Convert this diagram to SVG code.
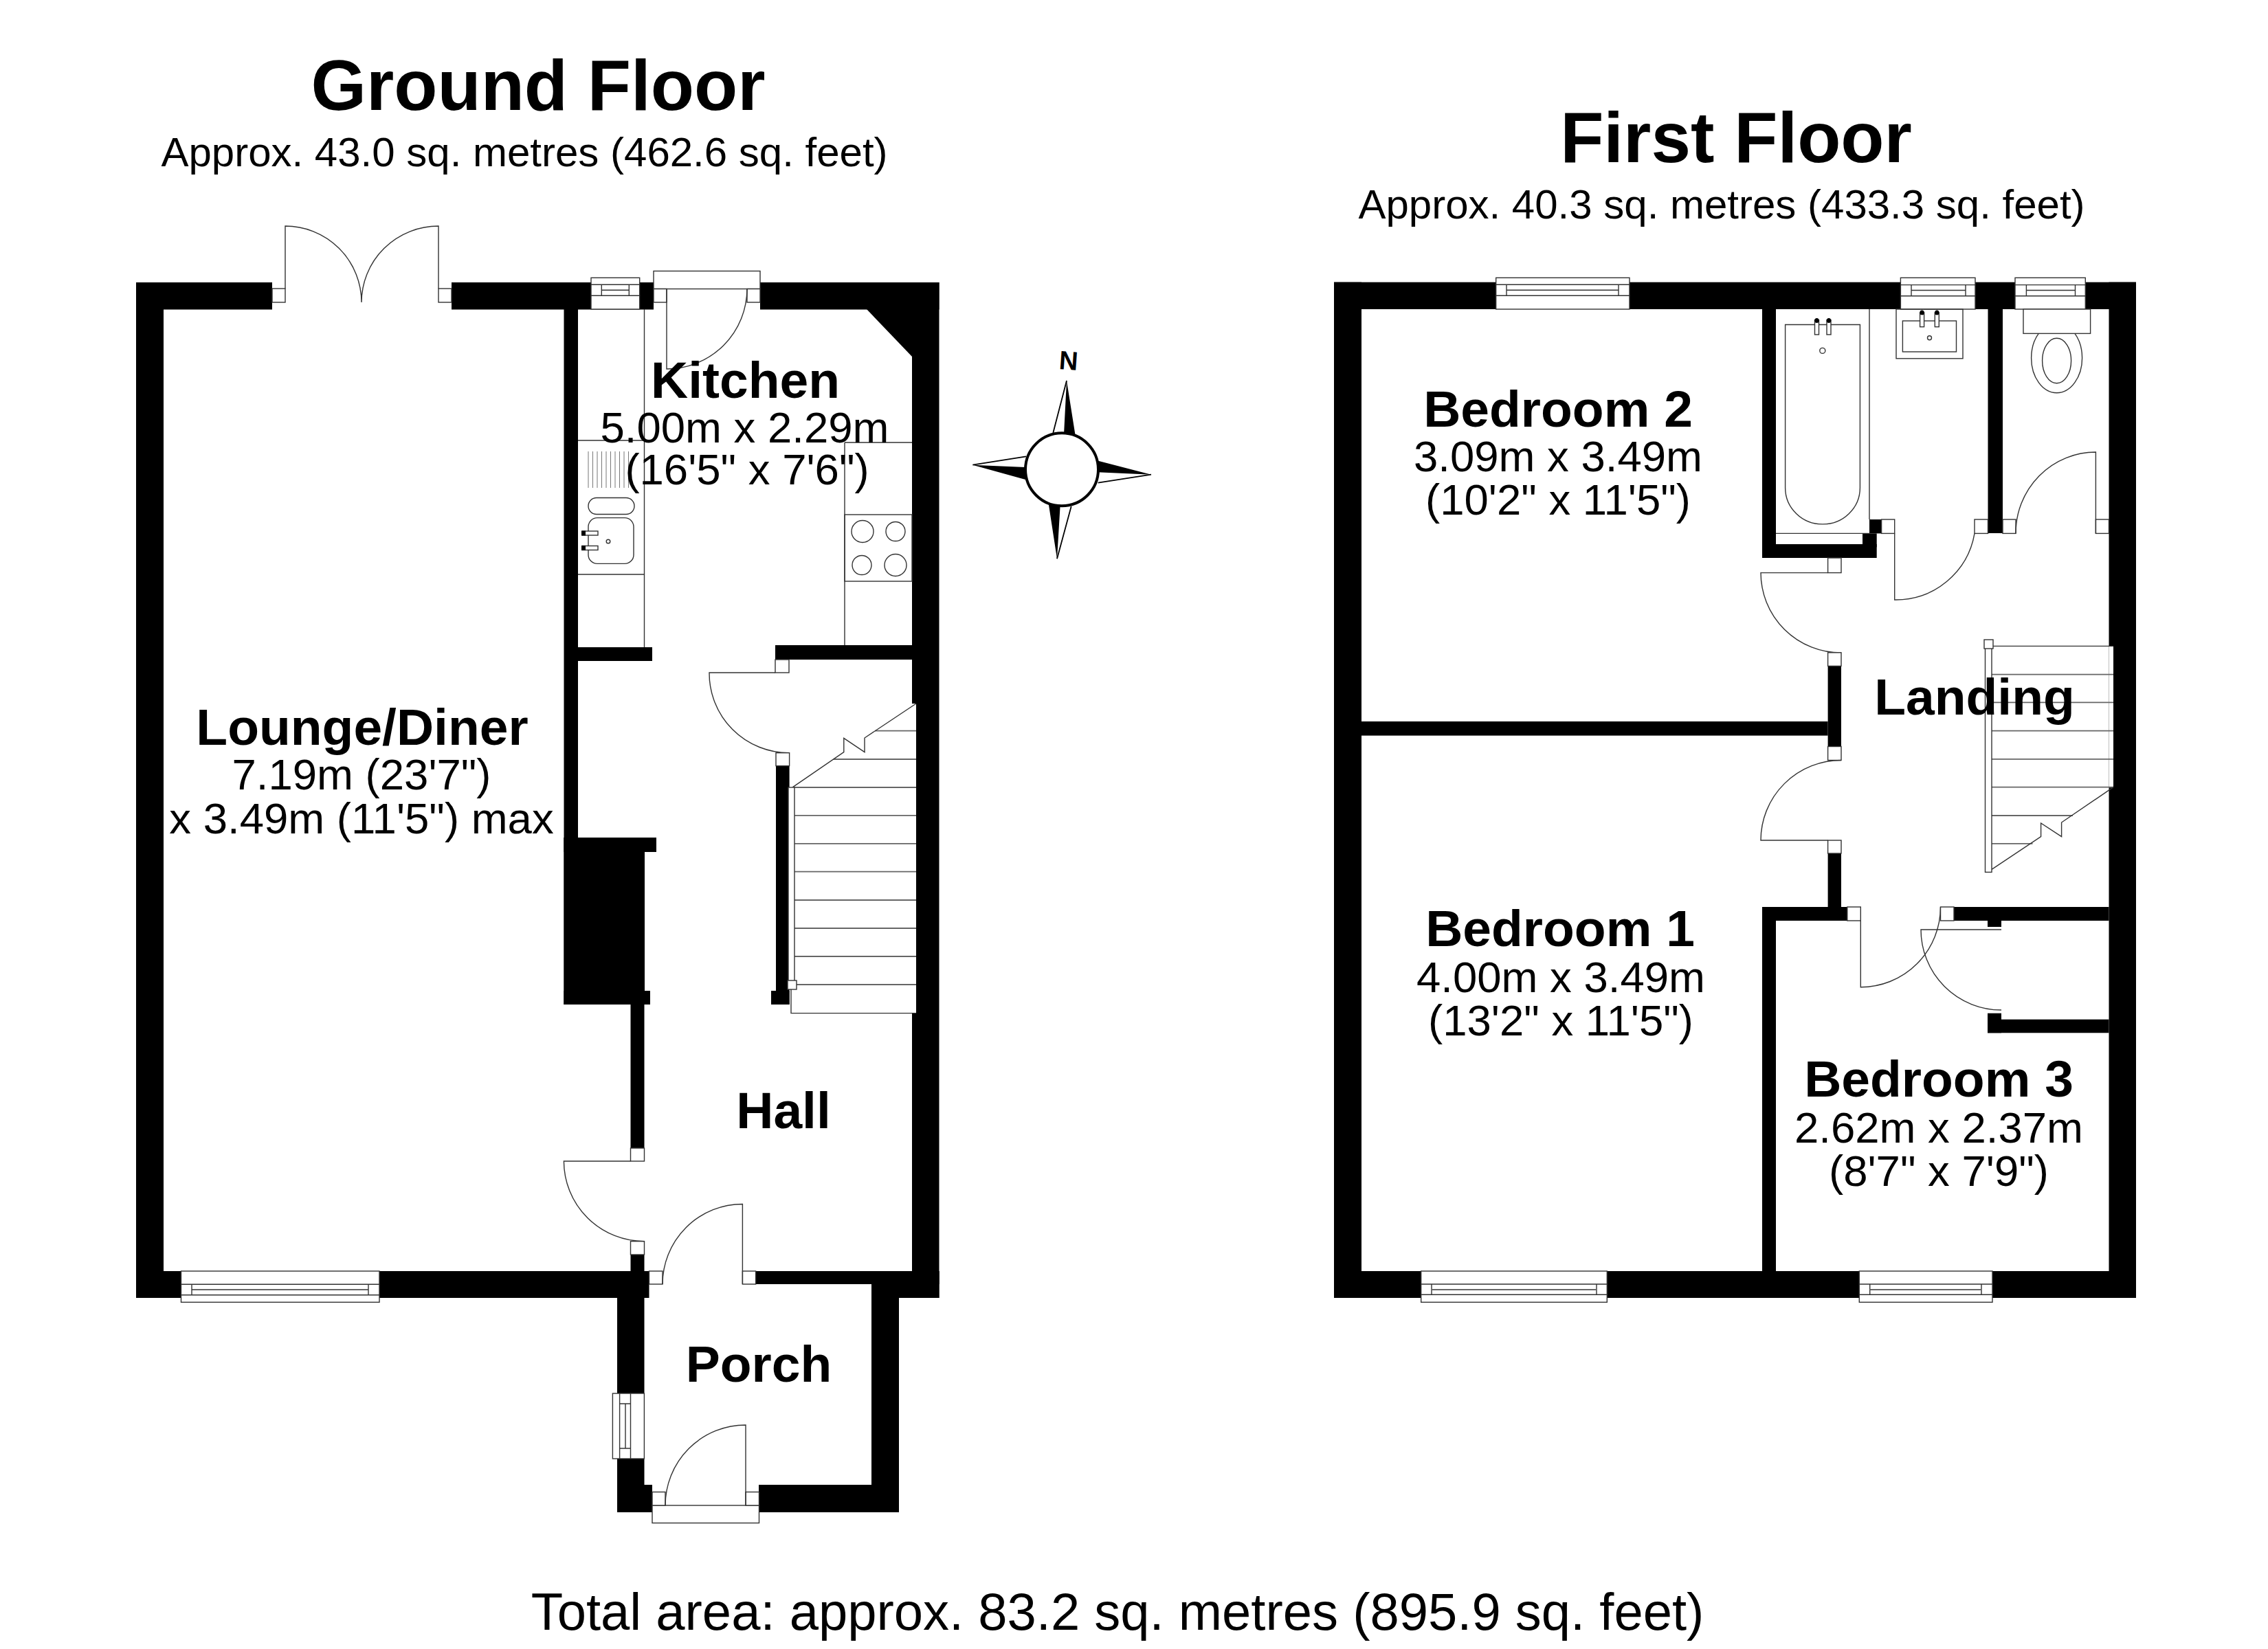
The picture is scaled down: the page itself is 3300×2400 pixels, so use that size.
<svg xmlns="http://www.w3.org/2000/svg" width="3300" height="2400" viewBox="0 0 3300 2400">
<style>
text{font-family:"Liberation Sans",Arial,sans-serif;fill:#000;text-anchor:middle}
.t{font-size:103.500px;font-weight:700}
.s{font-size:60px}
.b{font-size:75px;font-weight:700}
.d{font-size:63.500px}
.w{fill:#000;stroke:none}
.l{fill:none;stroke:#333;stroke-width:1.4}
.j{fill:#fff;stroke:#333;stroke-width:1.4}
.g{fill:none;stroke:#666;stroke-width:1.8}
.h{fill:none;stroke:#777;stroke-width:1}
.c{fill:#000;stroke:none}
</style>
<rect width="3300" height="2400" fill="#fff"/>
<g id="ground-floor">
<g id="ground-walls">
<rect class="w" x="198" y="411" width="198" height="39.500"/>
<rect class="w" x="657" y="411" width="294" height="39.500"/>
<rect class="w" x="1106" y="411" width="260.500" height="39.500"/>
<rect class="w" x="198" y="411" width="40" height="1478"/>
<rect class="w" x="1327" y="411" width="39.500" height="1478"/>
<polygon class="w" points="1261,450 1327,450 1327,519"/>
<rect class="w" x="198" y="1850" width="746.500" height="39"/>
<rect class="w" x="1099.600" y="1850" width="267" height="19"/>
<rect class="w" x="1268" y="1850" width="98.500" height="39"/>
<rect class="w" x="820.500" y="450" width="20.500" height="1012"/>
<rect class="w" x="841" y="942" width="108" height="20"/>
<rect class="w" x="1128" y="939" width="199" height="21"/>
<rect class="w" x="820.500" y="1219" width="134.500" height="21"/>
<rect class="w" x="820.500" y="1219" width="117.500" height="243"/>
<rect class="w" x="820.500" y="1442" width="125.500" height="20"/>
<rect class="w" x="917.500" y="1462" width="20" height="209"/>
<rect class="w" x="917.500" y="1826" width="20" height="24"/>
<rect class="w" x="1129" y="1115" width="19.600" height="347"/>
<rect class="w" x="1122" y="1442" width="26.600" height="20"/>
<rect class="w" x="898" y="1889" width="39.500" height="312"/>
<rect class="w" x="898" y="2161" width="51" height="40"/>
<rect class="w" x="1104" y="2161" width="204" height="40"/>
<rect class="w" x="1268" y="1869" width="40" height="332"/>
<rect fill="#fff" x="1327" y="1024" width="6" height="451"/>
</g>
<g id="lounge-doors-windows">
<rect class="j" x="396" y="420" width="19" height="20"/>
<rect class="j" x="638" y="420" width="19" height="20"/>
<path class="l" d="M415 420V329A111 111 0 0 1 526 440M638 420V329A112 111 0 0 0 526 440"/>
<g id="lounge-window">
<rect class="j" x="263.500" y="1850" width="288.500" height="45.300"/>
<path class="l" d="M264 1869.300H552M264 1884.700H552M279 1869.300V1884.700M536 1869.300V1884.700M279 1877H536"/>
</g>
</g>
<g id="kitchen-fixtures">
<rect class="j" x="860" y="404.300" width="70.700" height="45.700"/>
<path class="l" d="M860 414.300H930.700M860 430.300H930.700M875.300 414.300V430.300M915.300 414.300V430.300M875.300 422.300H915.300"/>
<rect class="j" x="951" y="394.500" width="155" height="26"/>
<rect class="j" x="951" y="420.500" width="19" height="19.500"/>
<rect class="j" x="1087" y="420.500" width="19" height="19.500"/>
<path class="l" d="M970 420.500V537A117 117 0 0 0 1087 420.500"/>
<path class="l" d="M937.500 450V942M841 641H937.500M841 836H937.500M1229 644V939M1229 644H1327"/>
<path class="h" d="M856 657V710M862.500 657V710M869 657V710M875.500 657V710M882 657V710M888.500 657V710M895 657V710M901.500 657V710M908 657V710M914.500 657V710"/>
<rect class="l" x="856" y="724.500" width="67" height="24" rx="12"/>
<rect class="l" x="856" y="753.600" width="66" height="66.800" rx="13"/>
<rect class="j" x="847" y="773" width="23" height="6"/>
<rect class="j" x="847" y="794.500" width="23" height="6"/>
<rect class="c" x="846" y="772.500" width="6" height="7"/>
<rect class="c" x="846" y="794" width="6" height="7"/>
<circle class="l" cx="885" cy="788" r="2.800"/>
<rect class="l" x="1229" y="749" width="98" height="97"/>
<circle class="l" cx="1255" cy="773.500" r="16"/>
<circle class="l" cx="1303" cy="773.500" r="14"/>
<circle class="l" cx="1254" cy="822.500" r="14"/>
<circle class="l" cx="1303" cy="822.500" r="16"/>
</g>
<g id="hall-fixtures">
<rect class="j" x="1128" y="960" width="20" height="19"/>
<path class="l" d="M1128 979H1032A116 116 0 0 0 1148 1095.700"/>
<rect class="j" x="1129" y="1095.700" width="19.600" height="19"/>
<path class="l" d="M1151 1440V1474.600H1333"/>
<path class="g" d="M1156 1186.800H1333M1156 1227.900H1333M1156 1268.600H1333M1156 1310H1333M1156 1351H1333M1156 1392H1333M1156 1433H1333M1153.500 1146H1333M1212.600 1105H1333M1273 1063.600H1333"/>
<path class="l" d="M1153.500 1145.700L1227.800 1094.600V1074.300L1258 1094.600V1074L1333 1024"/>
<rect class="j" x="1147" y="1146" width="9" height="282"/>
<rect class="j" x="1146" y="1427" width="13" height="13"/>
<rect class="j" x="917.500" y="1671" width="20" height="19"/>
<rect class="j" x="917.500" y="1806.600" width="20" height="19.400"/>
<path class="l" d="M917.500 1690H820.400A117 117 0 0 0 937.500 1806.600"/>
<rect class="j" x="944.500" y="1850" width="19.500" height="19"/>
<rect class="j" x="1080.400" y="1850" width="19.200" height="19"/>
<path class="l" d="M1080.400 1869V1752.500A116.500 116.500 0 0 0 964 1869"/>
</g>
<g id="porch-fixtures">
<rect class="j" x="891.400" y="2028" width="46" height="95"/>
<path class="l" d="M901.600 2028V2123M917.500 2028V2123M901.600 2043H917.500M901.600 2108H917.500M910 2043V2108"/>
<rect class="j" x="949" y="2191" width="155.500" height="25.600"/>
<rect class="j" x="949" y="2171.500" width="19" height="19.500"/>
<rect class="j" x="1085" y="2171.500" width="19.500" height="19.500"/>
<path class="l" d="M1085 2191V2074A117 117 0 0 0 968 2191"/>
</g>
</g>
<g id="first-floor">
<g id="first-walls">
<rect class="w" x="1941" y="410.700" width="1167" height="39.300"/>
<rect class="w" x="1941" y="410.700" width="40" height="1478.300"/>
<rect class="w" x="3068.500" y="410.700" width="39.500" height="1478.300"/>
<rect class="w" x="1941" y="1850" width="1167" height="39"/>
<rect fill="#fff" x="3068.500" y="940.400" width="6.500" height="205.300"/>
<rect class="w" x="2564" y="450" width="20" height="362"/>
<rect class="w" x="2564" y="792" width="166.700" height="20"/>
<rect class="w" x="2710" y="776.400" width="20.700" height="20"/>
<rect class="w" x="2720" y="756" width="17.600" height="20.400"/>
<rect class="w" x="2892.500" y="450" width="21.500" height="326"/>
<rect class="w" x="2659.600" y="950" width="19.400" height="156.500"/>
<rect class="w" x="2659.600" y="1223" width="19.400" height="97"/>
<rect class="w" x="1981" y="1050" width="678.600" height="20.600"/>
<rect class="w" x="2564" y="1320" width="124" height="20"/>
<rect class="w" x="2564" y="1320" width="20" height="530"/>
<rect class="w" x="2843" y="1320" width="225.500" height="20"/>
<rect class="w" x="2892" y="1340" width="20" height="9"/>
<rect class="w" x="2892" y="1474.700" width="20" height="28.600"/>
<rect class="w" x="2892" y="1483.700" width="176.500" height="19.600"/>
</g>
<g id="first-windows">
<g id="bedroom2-window">
<rect class="j" x="2176.700" y="404.300" width="194.300" height="45.700"/>
<path class="l" d="M2176.700 414.300H2371M2176.700 430.300H2371M2192 414.300V430.300M2355 414.300V430.300M2192 422.300H2355"/>
</g>
<g id="bathroom-window">
<rect class="j" x="2765.400" y="404.300" width="108.600" height="45.700"/>
<path class="l" d="M2765.400 414.600H2874M2765.400 430.700H2874M2781 414.600V430.700M2860 414.600V430.700M2781 422.500H2860"/>
</g>
<g id="wc-window">
<rect class="j" x="2932" y="404.300" width="102.300" height="45.700"/>
<path class="l" d="M2932 414.600H3034.300M2932 430.700H3034.300M2948.400 414.600V430.700M3019.500 414.600V430.700M2948.400 422.500H3019.500"/>
</g>
<g id="bedroom1-window">
<rect class="j" x="2067.700" y="1850" width="270.600" height="45.300"/>
<path class="l" d="M2067.700 1869H2338.300M2067.700 1884.300H2338.300M2083 1869V1884.300M2323 1869V1884.300"/>
<path class="g" d="M2083 1877H2323"/>
</g>
<g id="bedroom3-window">
<rect class="j" x="2705.300" y="1850" width="193.700" height="45.300"/>
<path class="l" d="M2705.300 1869H2899M2705.300 1884.300H2899M2720.700 1869V1884.300M2883 1869V1884.300"/>
<path class="g" d="M2720.700 1877H2883"/>
</g>
</g>
<g id="bathroom-fixtures">
<path class="l" d="M2584 776.400H2720M2720 450V756"/>
<path class="l" d="M2597.600 472.500V710A54.400 53 0 0 0 2706.400 710V472.500Z"/>
<rect class="j" x="2640.500" y="465.700" width="6" height="21.300"/>
<rect class="j" x="2658" y="465.700" width="6" height="21.300"/>
<ellipse class="c" cx="2643.500" cy="466.500" rx="3.200" ry="3.500"/>
<ellipse class="c" cx="2661" cy="466.500" rx="3.200" ry="3.500"/>
<circle class="l" cx="2651.800" cy="510.400" r="4"/>
<rect class="l" x="2759" y="450" width="97" height="71.800"/>
<rect class="l" x="2768.400" y="467" width="78.100" height="45"/>
<rect class="j" x="2793.600" y="455" width="6" height="20.700"/>
<rect class="j" x="2815.300" y="455" width="6" height="20.700"/>
<ellipse class="c" cx="2796.600" cy="455" rx="3.200" ry="3.500"/>
<ellipse class="c" cx="2818.300" cy="455" rx="3.200" ry="3.500"/>
<circle class="l" cx="2807.500" cy="491.800" r="3"/>
<rect class="j" x="2737.600" y="756" width="19.100" height="20.400"/>
<rect class="j" x="2873" y="756" width="19.500" height="20.400"/>
<path class="l" d="M2756.700 776.400V873A116.300 116.300 0 0 0 2873 776.400"/>
</g>
<g id="wc-fixtures">
<ellipse class="l" cx="2992.600" cy="521" rx="37" ry="50.700"/>
<ellipse class="l" cx="2992.600" cy="525" rx="21" ry="32.700"/>
<rect class="j" x="2944" y="450" width="97.600" height="35.400"/>
<rect class="j" x="2914" y="756" width="19" height="20.400"/>
<rect class="j" x="3049.400" y="756" width="19.100" height="20.400"/>
<path class="l" d="M3049.400 776.400V658A116.400 118 0 0 0 2933 776.400"/>
</g>
<g id="landing-fixtures">
<rect class="j" x="2659.600" y="812" width="19.400" height="21.600"/>
<path class="l" d="M2659.600 833.600H2562A117 116.500 0 0 0 2679 950"/>
<rect class="j" x="2659.600" y="949.800" width="19.400" height="19.600"/>
<rect class="j" x="2659.600" y="1086.500" width="19.400" height="20"/>
<path class="l" d="M2679 1106.500A117 116.500 0 0 0 2562 1223H2659.600"/>
<rect class="j" x="2659.600" y="1223" width="19.400" height="19"/>
<rect class="j" x="2687.800" y="1320" width="19.500" height="20"/>
<path class="l" d="M2707.300 1340V1436.700A116.200 116.700 0 0 0 2823.500 1320"/>
<rect class="j" x="2823.500" y="1320" width="19.500" height="20"/>
<path class="l" d="M2912 1353H2795A117 117 0 0 0 2912 1470"/>
<path class="g" d="M2898 981.600H3075M2898 1022.400H3075M2898 1063.700H3075M2898 1104.900H3075M2898 1145.700H3075M2898 1187H3016M2898 1227.800H2957.500"/>
<path class="l" d="M2898 940.400H3075M2898 1265.300L2969.600 1217.600V1198L2999.600 1217.600V1197L3075 1145.700"/>
<rect class="j" x="2888.500" y="943" width="9.500" height="326.400"/>
<rect class="j" x="2887" y="931" width="13" height="13"/>
</g>
</g>
<g id="compass">
<path class="c" d="M1552 554L1564.700 634L1548 632ZM1415.300 676.700L1492 680L1492 698ZM1675 690.700L1598 670.700L1597 687.300ZM1538 813.300L1526 735L1542.700 735Z"/>
<path fill="none" stroke="#000" stroke-width="1.800" d="M1552 554L1532.300 630M1415.300 676.700L1493 664.300M1675 690.700L1597.700 702.700M1538 813.300L1558.700 737"/>
<circle cx="1545" cy="683.300" r="53" fill="#fff" stroke="#000" stroke-width="4"/>
<text transform="translate(1554 538) rotate(4)" style="font-size:38px;font-weight:700">N</text>
</g>
<g id="labels">
<text class="t" x="783" y="160">Ground Floor</text>
<text class="s" x="763" y="242">Approx. 43.0 sq. metres (462.6 sq. feet)</text>
<text class="t" x="2526" y="236">First Floor</text>
<text class="s" x="2505" y="318">Approx. 40.3 sq. metres (433.3 sq. feet)</text>
<text class="b" x="527" y="1084">Lounge/Diner</text>
<text class="d" x="526" y="1149">7.19m (23'7")</text>
<text class="d" x="526" y="1213">x 3.49m (11'5") max</text>
<text class="b" x="1084.500" y="579">Kitchen</text>
<text class="d" x="1083.500" y="644">5.00m x 2.29m</text>
<text class="d" x="1087" y="705">(16'5" x 7'6")</text>
<text class="b" x="1140" y="1642">Hall</text>
<text class="b" x="1104" y="2011">Porch</text>
<text class="b" x="2873" y="1040">Landing</text>
<text class="b" x="2267" y="621">Bedroom 2</text>
<text class="d" x="2267" y="686">3.09m x 3.49m</text>
<text class="d" x="2267" y="749">(10'2" x 11'5")</text>
<text class="b" x="2270" y="1377">Bedroom 1</text>
<text class="d" x="2271" y="1444">4.00m x 3.49m</text>
<text class="d" x="2271" y="1507">(13'2" x 11'5")</text>
<text class="b" x="2821" y="1596">Bedroom 3</text>
<text class="d" x="2821" y="1663">2.62m x 2.37m</text>
<text class="d" x="2821" y="1726">(8'7" x 7'9")</text>
<text x="1626" y="2372" style="font-size:76px">Total area: approx. 83.2 sq. metres (895.9 sq. feet)</text>
</g>
</svg>
